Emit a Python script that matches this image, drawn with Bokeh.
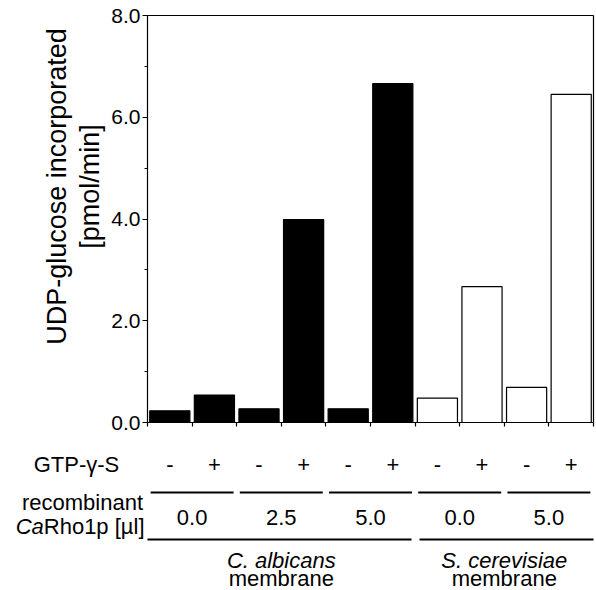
import math
from bokeh.plotting import figure
from bokeh.models import Range1d, FixedTicker, PrintfTickFormatter, ColumnDataSource
from bokeh.core.properties import value
from bokeh.embed import file_html
from bokeh.resources import INLINE

# ---- data ----
gtp_labels = ["-", "+", "-", "+", "-", "+", "-", "+", "-", "+"]
rho_labels = ["0.0", "2.5", "5.0", "0.0", "5.0"]
membrane_names = ["C. albicans", "S. cerevisiae"]
membrane_counts = [6, 4]
membrane_fills = ["black", "white"]
udp_values = [0.23, 0.54, 0.27, 3.99, 0.27, 6.66, 0.48, 2.67, 0.69, 6.45]
y_ticks = [0, 2, 4, 6, 8]
y_minor = [1, 3, 5, 7]

FONT = value("Liberation Sans")
n = len(udp_values)
Y_MAX = 8

# ---- layout (pixels) ----
W, H = 596, 590
FL, FR, FT, FB = 147, 593, 15, 422          # plot box edges on the page
px_x = (FR - FL) / n                         # pixels per category
px_y = (FB - FT) / Y_MAX                     # pixels per y unit


def dx(px):  # page x -> data x
    return (px - FL) / px_x


def dy(py):  # page y -> data y
    return (FB - py) / px_y


fills = []
for cnt, col in zip(membrane_counts, membrane_fills):
    fills += [col] * cnt

src = ColumnDataSource(dict(x=[i + 0.5 for i in range(n)], top=udp_values, fill=fills))

p = figure(width=W, height=H, x_range=Range1d(dx(0), dx(W)), y_range=Range1d(dy(H), dy(0)),
           output_backend="svg", toolbar_location=None,
           min_border_left=0, min_border_right=0, min_border_top=0, min_border_bottom=0)
p.xgrid.visible = False
p.ygrid.visible = False
p.outline_line_color = None
p.background_fill_color = "white"
p.border_fill_color = "white"

p.vbar(x="x", top="top", width=0.9, fill_color="fill", line_color="black",
       line_width=1.2, source=src)
# top and right border of the plot box
p.segment(x0=[0, n], y0=[Y_MAX, 0], x1=[n, n], y1=[Y_MAX, Y_MAX],
          line_color="black", line_width=1.2)

# x axis: only boundary ticks, no labels
xa = p.xaxis[0]
xa.fixed_location = 0
xa.bounds = (0, n)
xa.ticker = FixedTicker(ticks=[], minor_ticks=list(range(n + 1)))
xa.minor_tick_out = 4
xa.minor_tick_in = 0
xa.major_tick_out = 0
xa.major_tick_in = 0
xa.axis_line_color = "black"
xa.axis_line_width = 1.2
xa.minor_tick_line_color = "black"
xa.minor_tick_line_width = 1.2

ya = p.yaxis[0]
ya.fixed_location = 0
ya.bounds = (0, Y_MAX)
ya.ticker = FixedTicker(ticks=y_ticks, minor_ticks=y_minor)
ya.formatter = PrintfTickFormatter(format="%.1f")
ya.major_label_text_font = "Liberation Sans"
ya.major_label_text_font_size = "21px"
ya.major_label_text_color = "black"
ya.major_label_standoff = 2
ya.major_tick_out = 5
ya.major_tick_in = 0
ya.minor_tick_out = 3
ya.minor_tick_in = 0
ya.axis_line_color = "black"
ya.axis_line_width = 1.2
ya.major_tick_line_color = "black"
ya.minor_tick_line_color = "black"

TS = "22px"
common = dict(text_font=FONT, text_color="black", text_baseline="middle")

# y-axis title (two lines)
p.text(x=[dx(56), dx(89)], y=[dy(186), dy(186)],
       text=["UDP-glucose incorporated", "[pmol/min]"], angle=math.pi / 2,
       text_align="center", text_font_size="27px", **common)

# GTP row
p.text(x=[i + 0.5 for i in range(n)], y=[dy(464)] * n, text=gtp_labels,
       text_align="center", text_font_size=TS, **common)

# recombinant row: short lines and values
m = len(rho_labels)
p.segment(x0=[2 * k + 0.07 for k in range(m)], y0=[dy(492)] * m,
          x1=[2 * k + 1.93 for k in range(m)], y1=[dy(492)] * m,
          line_color="black", line_width=2)
p.text(x=[2 * k + 1 for k in range(m)], y=[dy(517)] * m, text=rho_labels,
       text_align="center", text_font_size=TS, **common)

# membrane groups
starts, ends = [], []
acc = 0
for cnt in membrane_counts:
    starts.append(acc)
    ends.append(acc + cnt)
    acc += cnt
g = len(membrane_counts)
p.segment(x0=[s + (0.0 if i == 0 else 0.1) for i, s in enumerate(starts)], y0=[dy(539)] * g,
          x1=[e - (0.08 if i < g - 1 else 0.0) for i, e in enumerate(ends)], y1=[dy(539)] * g,
          line_color="black", line_width=2)
mids = [(s + e) / 2 for s, e in zip(starts, ends)]
p.text(x=mids, y=[dy(560)] * g, text=membrane_names, text_align="center",
       text_font_size=TS, text_font_style="italic", **common)
p.text(x=mids, y=[dy(578)] * g, text=["membrane"] * g, text_align="center",
       text_font_size=TS, **common)

# row titles on the left
p.text(x=[dx(76)], y=[dy(464)], text=["GTP-\u03b3-S"], text_align="center",
       text_font_size=TS, **common)
p.text(x=[dx(82)], y=[dy(502)], text=["recombinant"], text_align="center",
       text_font_size=TS, **common)
rho_w = 4.578 * 22 / px_x
p.text(x=[dx(144)], y=[dy(526)], text=["Rho1p [\u00b5l]"], text_align="right",
       text_font_size=TS, **common)
p.text(x=[dx(144) - rho_w], y=[dy(526)], text=["Ca"], text_align="right",
       text_font_size=TS, text_font_style="italic", **common)

open("out.html", "w").write(file_html(p, INLINE))
